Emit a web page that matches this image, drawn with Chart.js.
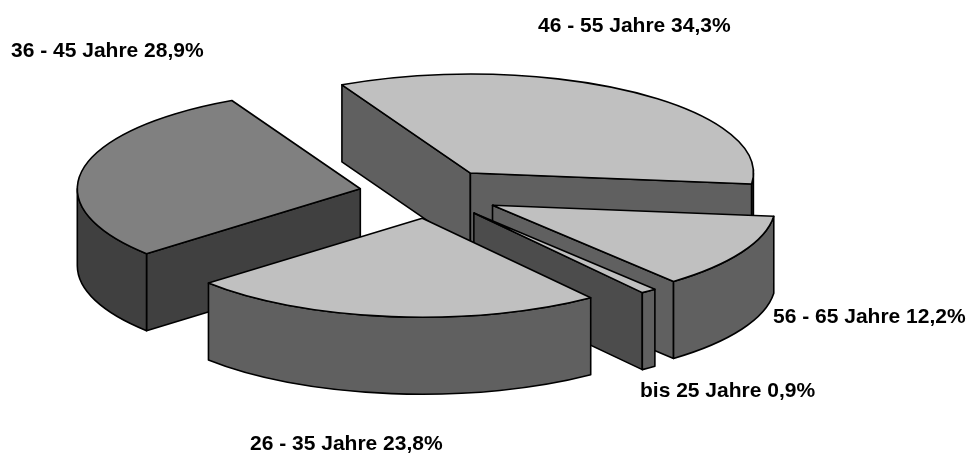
<!DOCTYPE html>
<html>
<head>
<meta charset="utf-8">
<style>
  html, body { margin: 0; padding: 0; background: #fff; }
  #wrap { width: 968px; height: 455px; }
</style>
<script src="https://cdn.jsdelivr.net/npm/chart.js@4/dist/chart.umd.min.js"></script>
</head>
<body>
<div id="wrap"><canvas id="chart" width="968" height="455"></canvas></div>
<script>
const categories = ["46 - 55 Jahre", "56 - 65 Jahre", "bis 25 Jahre", "26 - 35 Jahre", "36 - 45 Jahre"];
const shares = [34.3, 12.2, 0.9, 23.8, 28.9];

const topColors = ["#c0c0c0", "#c0c0c0", "#c0c0c0", "#c0c0c0", "#808080"];
const sideColors = ["#606060", "#606060", "#4c4c4c", "#606060", "#404040"];
const rimColors = ["#606060", "#606060", "#606060", "#606060", "#404040"];

// back to front, so nearer slices cover the walls behind them
const paintOrder = [0, 4, 1, 2, 3];

const TILT = 0.35;
const DEPTH = 77;
const EXPLODE = 71;

// text anchors for the labels, same order as categories
const labelSpots = [[538, 26], [773, 317], [640, 391], [250, 444], [11, 51]];

function drawSlice(ctx, arc, i) {
  const mid = (arc.startAngle + arc.endAngle) / 2;
  const x = arc.x + Math.cos(mid) * EXPLODE;
  const y = arc.y + Math.sin(mid) * EXPLODE * TILT;
  const rx = arc.outerRadius;
  const ry = rx * TILT;
  const a0 = arc.startAngle;
  const a1 = arc.endAngle;

  ctx.save();
  ctx.lineWidth = 1.6;
  ctx.lineJoin = "round";
  ctx.strokeStyle = "#000";

  // flat cut faces, only the ones turned to the viewer
  const face = (a) => {
    const px = x + rx * Math.cos(a);
    const py = y + ry * Math.sin(a);
    ctx.beginPath();
    ctx.moveTo(x, y);
    ctx.lineTo(px, py);
    ctx.lineTo(px, py + DEPTH);
    ctx.lineTo(x, y + DEPTH);
    ctx.closePath();
    ctx.fillStyle = sideColors[i];
    ctx.fill();
    ctx.stroke();
  };
  if (Math.sin(a0 - Math.PI / 2) > 0) face(a0);
  if (Math.cos(a1) > 0) face(a1);

  // curved rim, the part between 0 and 180 degrees faces front
  const r0 = Math.max(a0, 0);
  const r1 = Math.min(a1, Math.PI);
  if (r1 > r0) {
    ctx.beginPath();
    ctx.ellipse(x, y, rx, ry, 0, r0, r1);
    ctx.ellipse(x, y + DEPTH, rx, ry, 0, r1, r0, true);
    ctx.closePath();
    ctx.fillStyle = rimColors[i];
    ctx.fill();
    ctx.stroke();
  }

  // top face is the chart.js arc itself, squashed
  ctx.save();
  ctx.translate(x - arc.x, y);
  ctx.scale(1, TILT);
  ctx.translate(0, -arc.y);
  arc.draw(ctx);
  ctx.restore();

  ctx.beginPath();
  ctx.moveTo(x, y);
  ctx.ellipse(x, y, rx, ry, 0, a0, a1);
  ctx.closePath();
  ctx.stroke();
  ctx.restore();
}

const pie3d = {
  id: "pie3d",
  beforeDatasetsDraw(chart) {
    const arcs = chart.getDatasetMeta(0).data;
    paintOrder.forEach((i) => drawSlice(chart.ctx, arcs[i], i));
    return false;
  },
  afterDraw(chart) {
    const ctx = chart.ctx;
    ctx.save();
    ctx.font = 'bold 21px "Liberation Sans", Arial, sans-serif';
    ctx.fillStyle = "#000";
    ctx.textAlign = "left";
    ctx.textBaseline = "middle";
    categories.forEach((name, i) => {
      const text = `${name} ${shares[i].toFixed(1).replace(".", ",")}%`;
      ctx.fillText(text, labelSpots[i][0], labelSpots[i][1]);
    });
    ctx.restore();
  },
};

new Chart(document.getElementById("chart"), {
  type: "pie",
  data: {
    labels: categories,
    datasets: [
      {
        data: shares,
        backgroundColor: topColors,
        borderWidth: 0,
        radius: 283,
      },
    ],
  },
  options: {
    responsive: false,
    animation: false,
    rotation: -27,
    layout: { padding: { right: 108, bottom: 68 } },
    plugins: {
      legend: { display: false },
      tooltip: { enabled: false },
    },
  },
  plugins: [pie3d],
});
</script>
</body>
</html>
